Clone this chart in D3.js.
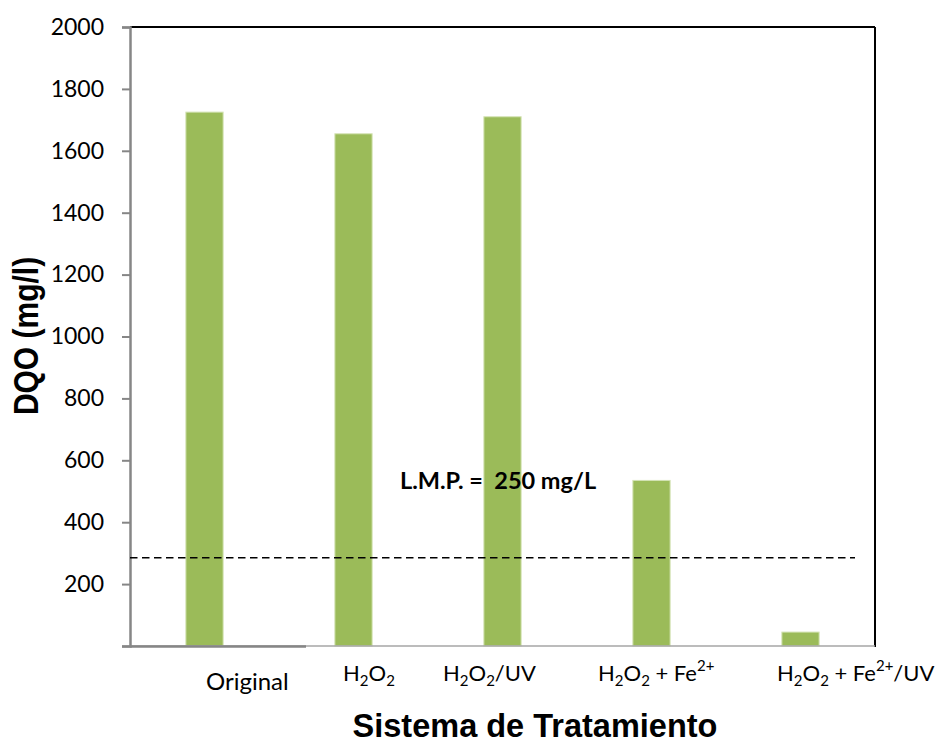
<!DOCTYPE html>
<html>
<head>
<meta charset="utf-8">
<script src="https://cdn.jsdelivr.net/npm/d3@7"></script>
<style>
  html, body { margin: 0; padding: 0; background: #fff; }
  svg { display: block; }
</style>
</head>
<body>
<svg id="chart" width="942" height="743"></svg>
<script>
// ---- data ----
const categories = ["Original", "H_2O_2", "H_2O_2/UV", "H_2O_2 + Fe^{2+}", "H_2O_2 + Fe^{2+}/UV"];
const dqoValues = [1725, 1655, 1710, 535, 45];
const yTicks = [0, 200, 400, 600, 800, 1000, 1200, 1400, 1600, 1800, 2000];
const limitValue = 285;
const limitLabel = "L.M.P. =  250 mg/L";
const yTitle = "DQO (mg/l)";
const xTitle = "Sistema de Tratamiento";

// ---- layout ----
const W = 942, H = 743;
const plot = { left: 130, right: 875, top: 27, bottom: 646 };
const labelStart = [206, 343, 443, 598, 777];
const labelBaseline = [690, 681, 681, 681, 681];

const svg = d3.select("#chart");

const x = d3.scaleBand().domain(categories).range([plot.left, plot.right]).paddingInner(0.75).paddingOuter(0.375);
const y = d3.scaleLinear().domain([0, 2000]).range([plot.bottom, plot.top]);

// bars
svg.append("g").selectAll("rect").data(categories).join("rect")
  .attr("x", d => x(d))
  .attr("width", x.bandwidth())
  .attr("y", (d, i) => y(dqoValues[i]))
  .attr("height", (d, i) => y(0) - y(dqoValues[i]))
  .attr("fill", "#9bbb59")
  .attr("stroke", "#d4e3b5")
  .attr("stroke-width", 1);

// frame: top and right black
svg.append("line").attr("x1", plot.left).attr("x2", plot.right).attr("y1", plot.top).attr("y2", plot.top)
  .attr("stroke", "#000").attr("stroke-width", 2);
svg.append("line").attr("x1", plot.right).attr("x2", plot.right).attr("y1", plot.top).attr("y2", plot.bottom + 1)
  .attr("stroke", "#000").attr("stroke-width", 2);

// bottom axis line (two segments)
svg.append("line").attr("x1", plot.right).attr("x2", plot.left).attr("y1", plot.bottom).attr("y2", plot.bottom)
  .attr("stroke", "#a6a6a6").attr("stroke-width", 1.5);
svg.append("line").attr("x1", plot.left).attr("x2", 306).attr("y1", plot.bottom + 0.5).attr("y2", plot.bottom + 0.5)
  .attr("stroke", "#868686").attr("stroke-width", 2.5);

// y axis
const yAxis = d3.axisLeft(y).tickValues(yTicks).tickSize(8).tickPadding(18)
  .tickFormat(d => d === 0 ? "" : d);
const gy = svg.append("g").attr("transform", `translate(${plot.left},0)`).call(yAxis);
gy.select(".domain").attr("stroke", "#868686").attr("stroke-width", 2.5);
gy.selectAll(".tick line").attr("stroke", "#868686").attr("stroke-width", 2);
gy.selectAll(".tick text").attr("font-family", "Lato, 'Open Sans', sans-serif").attr("font-size", 23).attr("fill", "#000");

// limit line
svg.append("line").attr("x1", plot.left).attr("x2", 855).attr("y1", y(limitValue)).attr("y2", y(limitValue))
  .attr("stroke", "#000").attr("stroke-width", 1.5).attr("stroke-dasharray", "7.5,4.5");

svg.append("text").attr("x", 400).attr("y", 489)
  .attr("font-family", "Lato, sans-serif").attr("font-weight", "bold").attr("font-size", 23.5)
  .style("white-space", "pre").attr("fill", "#000").text(limitLabel);

// x tick labels with sub/superscripts
function parseLabel(s) {
  const parts = [];
  let i = 0;
  while (i < s.length) {
    if (s[i] === "_") { parts.push({ t: s[i + 1], k: "sub" }); i += 2; }
    else if (s[i] === "^") {
      const end = s.indexOf("}", i);
      parts.push({ t: s.slice(i + 2, end), k: "sup" }); i = end + 1;
    } else {
      let j = i;
      while (j < s.length && s[j] !== "_" && s[j] !== "^") j++;
      parts.push({ t: s.slice(i, j), k: "norm" }); i = j;
    }
  }
  return parts;
}
categories.forEach((c, i) => {
  const t = svg.append("text").attr("x", labelStart[i]).attr("y", labelBaseline[i])
    .attr("font-family", "Lato, 'Open Sans', sans-serif").attr("font-size", i === 0 ? 24 : 22).attr("fill", "#000")
    .style("white-space", "pre");
  let shift = 0;
  parseLabel(c).forEach(p => {
    const target = p.k === "sub" ? 5 : p.k === "sup" ? -10 : 0;
    t.append("tspan").attr("dy", target - shift)
      .attr("font-size", p.k === "norm" ? (i === 0 ? 24 : 22) : 15).text(p.t);
    shift = target;
  });
});

// axis titles
svg.append("text").attr("x", 535).attr("y", 737).attr("text-anchor", "middle")
  .attr("font-family", "'Liberation Sans', Arial, sans-serif").attr("font-weight", "bold").attr("font-size", 32.5)
  .attr("fill", "#000").text(xTitle);
svg.append("text").attr("transform", "translate(38,336) rotate(-90) scale(1,1.15)").attr("text-anchor", "middle")
  .attr("font-family", "'Liberation Sans', Arial, sans-serif").attr("font-weight", "bold").attr("font-size", 30)
  .attr("fill", "#000").text(yTitle);
</script>
</body>
</html>
